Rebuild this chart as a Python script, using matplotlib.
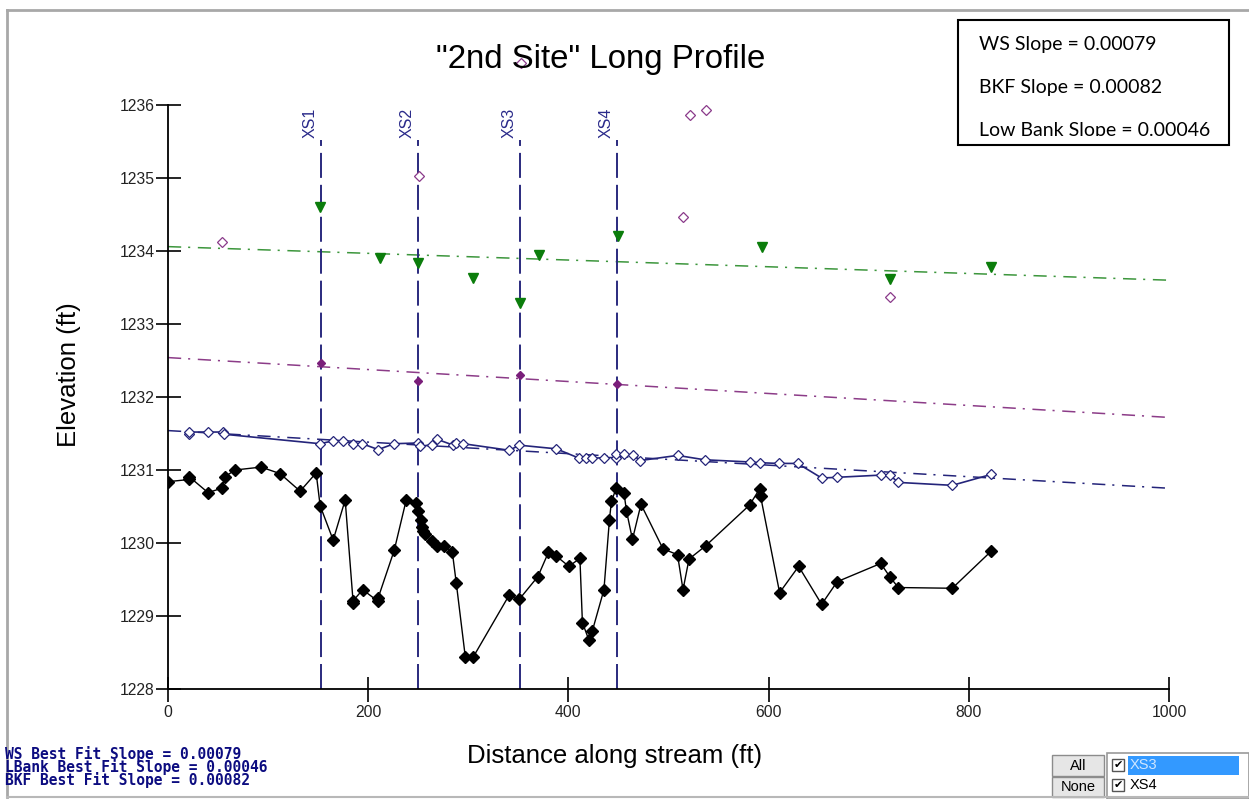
'''
Long profile of the 2nd site: thalweg, water surface, bankfull and low bank.
'''
import matplotlib
matplotlib.use('Agg')
import matplotlib.pyplot as plt
from matplotlib.patches import Rectangle
import numpy as np

plt.rcParams['font.family'] = ['Liberation Sans', 'DejaVu Sans']
plt.rcParams['lines.scale_dashes'] = False

# data
thal_x = [0, 21, 21, 40, 53.5, 57, 67, 93, 112, 132, 148, 152, 165, 177, 185, 185,
          194.5, 210, 210, 226, 238, 248, 249.5, 253, 254, 255, 257, 263.5, 269, 275.5,
          284, 288, 297, 305, 341, 351, 369.5, 380, 388, 400.5, 411.5, 414, 420.5, 424,
          435.5, 441, 443, 448, 455.5, 458, 464, 472.5, 494.5, 509, 514.5, 520.5, 537,
          581, 591, 592, 611, 630, 653, 668.5, 712, 721, 729.5, 783.5, 822.5]
thal_z = [1230.84, 1230.87, 1230.91, 1230.69, 1230.75, 1230.91, 1231.00, 1231.04, 1230.95,
          1230.71, 1230.96, 1230.51, 1230.04, 1230.59, 1229.18, 1229.21, 1229.36, 1229.20,
          1229.25, 1229.90, 1230.59, 1230.55, 1230.44, 1230.32, 1230.22, 1230.16, 1230.12,
          1230.03, 1229.96, 1229.96, 1229.88, 1229.45, 1228.44, 1228.44, 1229.29, 1229.23,
          1229.54, 1229.87, 1229.82, 1229.68, 1229.79, 1228.91, 1228.67, 1228.80, 1229.36,
          1230.32, 1230.57, 1230.76, 1230.69, 1230.44, 1230.05, 1230.53, 1229.92, 1229.84,
          1229.36, 1229.78, 1229.96, 1230.52, 1230.74, 1230.64, 1229.32, 1229.68, 1229.16,
          1229.47, 1229.72, 1229.54, 1229.39, 1229.38, 1229.89]

ws_x = [21, 21, 39.5, 54.5, 56, 152, 165, 175, 184.5, 194, 210, 226, 249.5, 252, 263.5,
        269, 285, 288, 295, 341, 351, 388, 411, 418, 424, 436, 448, 448, 456, 465, 472,
        509, 536, 581, 591, 610, 629, 653, 668.5, 712, 721, 729.5, 783.5, 822.5]
ws_z = [1231.49, 1231.52, 1231.52, 1231.52, 1231.49, 1231.36, 1231.40, 1231.40, 1231.36,
        1231.36, 1231.28, 1231.36, 1231.37, 1231.33, 1231.34, 1231.42, 1231.34, 1231.37,
        1231.36, 1231.27, 1231.34, 1231.29, 1231.16, 1231.16, 1231.16, 1231.17, 1231.17,
        1231.22, 1231.22, 1231.20, 1231.13, 1231.20, 1231.14, 1231.11, 1231.10, 1231.09,
        1231.09, 1230.89, 1230.90, 1230.93, 1230.93, 1230.83, 1230.79, 1230.94]

bkf_x = [153, 250, 352, 449]
bkf_z = [1232.47, 1232.22, 1232.30, 1232.18]

lowbank_x = [152, 211.5, 250, 305, 352, 371, 449.5, 593, 721, 822]
lowbank_z = [1234.60, 1233.90, 1233.84, 1233.63, 1233.29, 1233.95, 1234.20, 1234.05,
             1233.62, 1233.78]

other_x = [54, 250.5, 352.5, 514.5, 521, 537, 721]
other_z = [1234.12, 1235.03, 1236.57, 1234.46, 1235.86, 1235.93, 1233.37]

xs_names = ['XS1', 'XS2', 'XS3', 'XS4']
xs_pos = [153, 250, 352, 449]

# best fit lines (intercept, slope)
fit_ws = (1231.54, -0.00079)
fit_bkf = (1232.54, -0.00082)
fit_lb = (1234.06, -0.00046)

slope_lines = ['WS Slope = 0.00079', 'BKF Slope = 0.00082', 'Low Bank Slope = 0.00046']
fit_lines = ['WS Best Fit Slope = 0.00079', 'LBank Best Fit Slope = 0.00046',
             'BKF Best Fit Slope = 0.00082']

W, H = 1249, 799


def fx(px):
    return px / W


def fy(py):
    return 1 - py / H


fig = plt.figure(figsize=(12.49, 7.99), dpi=100)
ax = fig.add_axes([fx(168), fy(689), fx(1169) - fx(168), fy(105) - fy(689)])

ax.set_xlim(0, 1000)
ax.set_ylim(1228, 1236)

dashdot = (0, (9.5, 5, 1.5, 5.5))
fit_x = np.array([0, 1000])
ax.plot(fit_x, fit_lb[0] + fit_lb[1] * fit_x, color='#3c963c', lw=1.1, ls=dashdot)
ax.plot(fit_x, fit_bkf[0] + fit_bkf[1] * fit_x, color='#8c3c88', lw=1.1, ls=dashdot)
ax.plot(fit_x, fit_ws[0] + fit_ws[1] * fit_x, color='#24247a', lw=1.1, ls=dashdot)

# cross section lines
for name, xp in zip(xs_names, xs_pos):
    ax.plot([xp, xp], [1228, 1235.52], color='#2a2a7e', lw=1.4,
            ls=(0, (18, 5)), zorder=2)
    ax.text(xp - 4, 1235.55, name, rotation=90, ha='right', va='bottom',
            color='#2a2a8a', fontsize=11.5)

ax.plot(thal_x, thal_z, color='black', lw=1.0, marker='D', ms=5.8,
        mfc='black', mec='black', zorder=4)
ax.plot(ws_x, ws_z, color='#24247a', lw=1.2, marker='D', ms=5.2,
        mfc='white', mec='#24247a', mew=0.9, zorder=4)
ax.plot(bkf_x, bkf_z, ls='none', marker='D', ms=4.5, color='#7a1e7a', zorder=5)
ax.plot(lowbank_x, lowbank_z, ls='none', marker='v', ms=7.5, color='#0b7d0b', zorder=5)
ax.plot(other_x, other_z, ls='none', marker='D', ms=5.5, mfc='white',
        mec='#8a3a8a', mew=0.9, zorder=5, clip_on=False)

for s in ['top', 'right']:
    ax.spines[s].set_visible(False)
for s in ['left', 'bottom']:
    ax.spines[s].set_linewidth(1.3)

ax.set_xticks(range(0, 1001, 200))
ax.set_yticks(range(1228, 1237))
ax.tick_params(axis='both', direction='inout', length=18, width=1.2,
               labelsize=11.3, labelcolor='#222222')
ax.tick_params(axis='y', pad=0.5)
ax.tick_params(axis='x', pad=2.5)

fig.text(fx(601), fy(68), '"2nd Site" Long Profile', ha='center', va='baseline',
         fontsize=23.8)
fig.text(fx(69), fy(375), 'Elevation (ft)', rotation=90, ha='center', va='center',
         fontsize=18.5)
fig.text(fx(615), fy(756), 'Distance along stream (ft)', ha='center', va='center',
         fontsize=18.5)

# slope box
box = Rectangle((fx(958), fy(145)), fx(1229) - fx(958), fy(20) - fy(145),
                transform=fig.transFigure, fill=False, ec='black', lw=1.5)
fig.add_artist(box)
inner = Rectangle((fx(958), fy(135.5)), fx(1229) - fx(958), fy(20) - fy(135.5),
                  transform=fig.transFigure, fill=False, ec='none')
fig.add_artist(inner)
for txt, yy in zip(slope_lines, [50, 93, 136]):
    t = fig.text(fx(979), fy(yy), txt, ha='left', va='baseline', fontsize=14,
                 family=['Lato', 'DejaVu Sans'])
    t.set_clip_path(inner)

# best fit readout
fig.text(fx(5), fy(767), '\n'.join(fit_lines), ha='left', va='center', fontsize=10.5,
         linespacing=0.74, family=['DejaVu Sans Mono'], weight='bold', color='#0c0c80')

# window frame
fig.add_artist(plt.Line2D([fx(7), fx(7)], [fy(10), fy(797)], transform=fig.transFigure,
                          color='#a8a8a8', lw=2))
fig.add_artist(plt.Line2D([fx(7), fx(1249)], [fy(10), fy(10)], transform=fig.transFigure,
                          color='#a8a8a8', lw=2))
fig.add_artist(plt.Line2D([fx(7), fx(1249)], [fy(797), fy(797)], transform=fig.transFigure,
                          color='#b8b8b8', lw=1.5))

# selector widget
for label, y0, y1 in [('All', 755, 776), ('None', 777, 797)]:
    fig.add_artist(Rectangle((fx(1052), fy(y1)), fx(1104) - fx(1052), fy(y0) - fy(y1),
                             transform=fig.transFigure, fc='#e6e6e6', ec='#8c8c8c', lw=1))
    fig.text(fx(1078), fy((y0 + y1) / 2), label, ha='center', va='center', fontsize=10.5)
fig.add_artist(Rectangle((fx(1107), fy(799)), fx(1249) - fx(1107), fy(753) - fy(799),
                         transform=fig.transFigure, fc='white', ec='#9a9a9a', lw=1.2))
fig.add_artist(Rectangle((fx(1128), fy(775)), fx(1239) - fx(1128), fy(756) - fy(775),
                         transform=fig.transFigure, fc='#3399ff', ec='none'))
for name, yc, col in [('XS3', 765, '#cfe6ff'), ('XS4', 785, 'black')]:
    fig.add_artist(Rectangle((fx(1112), fy(yc + 6)), fx(1124) - fx(1112), fy(yc - 6) - fy(yc + 6),
                             transform=fig.transFigure, fc='white', ec='#555555', lw=1))
    fig.text(fx(1118), fy(yc), '\u2714', ha='center', va='center', fontsize=8,
             family=['DejaVu Sans'])
    fig.text(fx(1130), fy(yc), name, ha='left', va='center', fontsize=10.5, color=col)

plt.savefig('out.png', dpi=100)
